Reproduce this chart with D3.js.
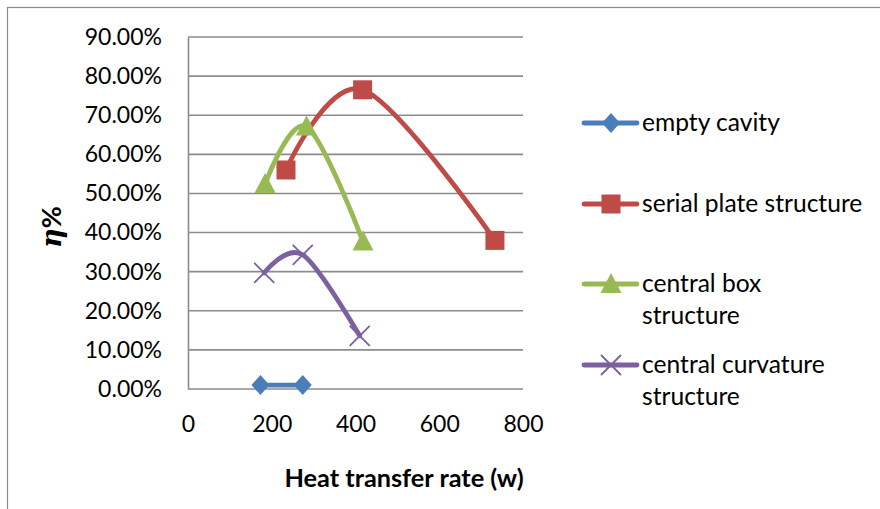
<!DOCTYPE html>
<html>
<head>
<meta charset="utf-8">
<script src="https://cdn.jsdelivr.net/npm/d3@7"></script>
<style>
  html, body { margin: 0; padding: 0; background: #fff; }
  svg { display: block; }
</style>
</head>
<body>
<svg id="chart" width="880" height="509"></svg>
<script>
// ---- data ----
const seriesNames = ["empty cavity", "serial plate structure", "central box structure", "central curvature structure"];
const legendLines = [["empty cavity"], ["serial plate structure"], ["central box", "structure"], ["central curvature", "structure"]];
const emptyX = [173, 274];
const emptyY = [0.010, 0.010];
const serialX = [234, 417, 733];
const serialY = [0.560, 0.765, 0.380];
const boxX = [184, 283, 418];
const boxY = [0.524, 0.671, 0.377];
const curvX = [182, 274, 410];
const curvY = [0.297, 0.343, 0.136];
const xTicks = [0, 200, 400, 600, 800];
const yTicks = [0, 0.1, 0.2, 0.3, 0.4, 0.5, 0.6, 0.7, 0.8, 0.9];
const xTitle = "Heat transfer rate (w)";
const colors = ["#4A7EBB", "#BE4B48", "#98B954", "#7D60A0"];
const markers = ["diamond", "square", "triangle", "x"];

const series = [
  { name: seriesNames[0], xs: emptyX, ys: emptyY },
  { name: seriesNames[1], xs: serialX, ys: serialY },
  { name: seriesNames[2], xs: boxX, ys: boxY },
  { name: seriesNames[3], xs: curvX, ys: curvY }
];

const svg = d3.select("#chart");
const FONT = "Lato, 'Open Sans', sans-serif";

// outer frame
svg.append("rect").attr("x", 7.5).attr("y", 7.5).attr("width", 900).attr("height", 520)
  .attr("fill", "none").attr("stroke", "#8a8a8a").attr("stroke-width", 1.2);

const x = d3.scaleLinear().domain([0, 800]).range([188, 523]);
const y = d3.scaleLinear().domain([0, 0.9]).range([389, 37]);

// gridlines
svg.append("g").selectAll("line").data(yTicks).join("line")
  .attr("x1", x(0)).attr("x2", x(800))
  .attr("y1", d => y(d)).attr("y2", d => y(d))
  .attr("stroke", "#8c8c8c").attr("stroke-width", 1.6);

// y axis
const gy = svg.append("g").attr("transform", `translate(${x(0)},0)`)
  .call(d3.axisLeft(y).tickValues(yTicks).tickFormat(d3.format(".2%")).tickSize(0).tickPadding(26));
gy.select(".domain").attr("stroke", "#8c8c8c").attr("stroke-width", 1.6);
gy.selectAll("text").attr("font-family", FONT).attr("font-size", 23).attr("fill", "#000");

// x axis
const gx = svg.append("g").attr("transform", `translate(0,${y(0)})`)
  .call(d3.axisBottom(x).tickValues(xTicks).tickFormat(d3.format("d")).tickSize(0).tickPadding(27));
gx.select(".domain").remove();
gx.selectAll("text").attr("font-family", FONT).attr("font-size", 23).attr("fill", "#000");

// axis titles
svg.append("text").attr("x", 404).attr("y", 487).attr("text-anchor", "middle")
  .attr("font-family", FONT).attr("font-weight", "bold").attr("font-size", 25.3).attr("fill", "#000")
  .text(xTitle);

const yt = svg.append("text").attr("transform", "translate(61,227) rotate(-90)")
  .attr("text-anchor", "middle").attr("font-weight", "bold").attr("font-size", 27).attr("fill", "#000");
yt.append("tspan").attr("font-family", "'DejaVu Serif', 'Liberation Serif', serif").attr("font-style", "italic").text("η");
yt.append("tspan").attr("font-family", FONT).text("%");

// marker drawing
function drawMarker(g, type, color, cx, cy) {
  if (type === "diamond") {
    g.append("path").attr("d", `M${cx},${cy - 10} L${cx + 9},${cy} L${cx},${cy + 10} L${cx - 9},${cy} Z`).attr("fill", color);
  } else if (type === "square") {
    g.append("rect").attr("x", cx - 9.5).attr("y", cy - 9.5).attr("width", 19).attr("height", 19).attr("fill", color);
  } else if (type === "triangle") {
    g.append("path").attr("d", `M${cx},${cy - 11} L${cx + 10.5},${cy + 9} L${cx - 10.5},${cy + 9} Z`).attr("fill", color);
  } else if (type === "x") {
    g.append("path").attr("d", `M${cx - 10},${cy - 10} L${cx + 10},${cy + 10} M${cx - 10},${cy + 10} L${cx + 10},${cy - 10}`)
      .attr("stroke", color).attr("stroke-width", 1.8).attr("fill", "none");
  }
}

const line = d3.line().x(d => x(d[0])).y(d => y(d[1])).curve(d3.curveCardinal.tension(0));

series.forEach((s, i) => {
  const pts = s.xs.map((v, j) => [v, s.ys[j]]);
  const g = svg.append("g");
  g.append("path").attr("d", line(pts)).attr("fill", "none")
    .attr("stroke", colors[i]).attr("stroke-width", 4.8).attr("stroke-linejoin", "round").attr("stroke-linecap", "round");
  pts.forEach(p => drawMarker(g, markers[i], colors[i], x(p[0]), y(p[1])));
});

// legend
const legendY = [123, 204, 284, 365];
legendLines.forEach((lines, i) => {
  const g = svg.append("g");
  const ly = legendY[i];
  g.append("line").attr("x1", 584).attr("x2", 637).attr("y1", ly).attr("y2", ly)
    .attr("stroke", colors[i]).attr("stroke-width", 4.8).attr("stroke-linecap", "round");
  drawMarker(g, markers[i], colors[i], 611, ly);
  lines.forEach((t, k) => {
    g.append("text").attr("x", 642).attr("y", ly + 8 + k * 32)
      .attr("font-family", FONT).attr("font-size", 24.6).attr("fill", "#000").text(t);
  });
});
</script>
</body>
</html>
